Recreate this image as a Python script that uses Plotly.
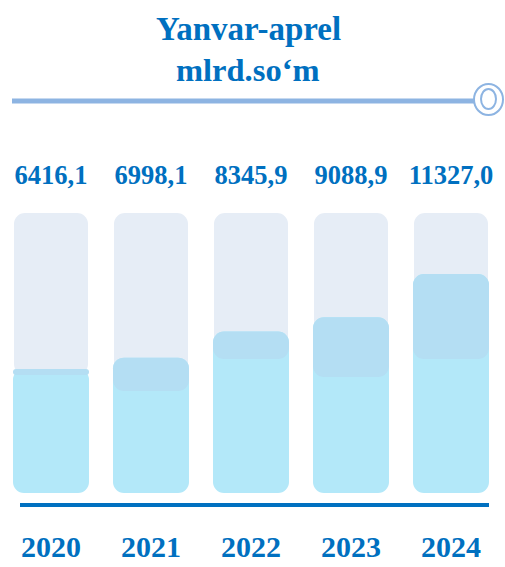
import plotly.graph_objects as go

# ---- data ----
years = ["2020", "2021", "2022", "2023", "2024"]
values = [6416.1, 6998.1, 8345.9, 9088.9, 11327.0]
title_line1 = "Yanvar-aprel"
title_line2 = "mlrd.so‘m"
# decorative background "track" extents (value units)
track_top = [14480, 14480, 14480, 14480, 14480]
track_bottom = [6100, 5270, 6930, 6000, 6930]

# ---- styles ----
BLUE = "#0070C0"
TRACK = "#E6EDF6"
CYAN = "#B3E8F9"
OVERLAP = "#B4DEF3"
LINE_LIGHT = "#8DB4E2"
FONT = "Liberation Serif"

W, H = 505, 567
ML, MR, MT, MB = 0, 0, 0, 62
PW, PH = W - ML - MR, H - MT - MB


def px_x(p):
    return (p - ML) / PW


def px_y(p):
    return (H - MB - p) / PH


def rounded_bar(fig, lo, hi, color, width, radius):
    """Floating bars (with a base) are rounded at both ends."""
    base, size = [], []
    for a, b in zip(lo, hi):
        if a is None or b is None or b <= a:
            base.append(None); size.append(None)
        else:
            base.append(a); size.append(b - a)
    fig.add_trace(go.Bar(
        x=years, y=size, base=base, width=width,
        marker=dict(color=color, line=dict(width=0), cornerradius=radius),
        hoverinfo="skip", showlegend=False,
    ))


fig = go.Figure()
rounded_bar(fig, track_bottom, track_top, TRACK, 0.74, 11)
rounded_bar(fig, [0] * len(values), values, CYAN, 0.76, 11)
ov_lo = [b if v > b else None for v, b in zip(values, track_bottom)]
ov_hi = [v if v > b else None for v, b in zip(values, track_bottom)]
rounded_bar(fig, ov_lo, ov_hi, OVERLAP, 0.76, 11)

UPP = 51.7  # value units per pixel

# value labels
fig.add_trace(go.Scatter(
    x=years, y=[(493 - 177) * UPP] * len(values), mode="text",
    text=[f"{v:.1f}".replace(".", ",") for v in values],
    textfont=dict(family=FONT, size=26.5, color=BLUE, weight="bold"),
    hoverinfo="skip", showlegend=False, cliponaxis=False,
))

fig.update_layout(
    width=W, height=H,
    margin=dict(l=ML, r=MR, t=MT, b=MB, autoexpand=False),
    paper_bgcolor="white", plot_bgcolor="white",
    barmode="overlay",
    xaxis=dict(
        type="category", range=[-0.51, 4.54], automargin=False,
        showline=False, showgrid=False, zeroline=False,
        ticks="outside", ticklen=15, tickcolor="rgba(0,0,0,0)",
        tickfont=dict(family=FONT, size=30, color=BLUE, weight="bold"),
        fixedrange=True,
    ),
    yaxis=dict(
        range=[-12 * UPP, 493 * UPP], automargin=False,
        visible=False, showgrid=False, zeroline=False, fixedrange=True,
    ),
    annotations=[
        dict(text=title_line1, xref="paper", yref="paper",
             x=px_x(248.5), y=px_y(29), xanchor="center", yanchor="middle",
             showarrow=False,
             font=dict(family=FONT, size=33, color=BLUE, weight="bold")),
        dict(text=title_line2, xref="paper", yref="paper",
             x=px_x(248), y=px_y(70), xanchor="center", yanchor="middle",
             showarrow=False,
             font=dict(family=FONT, size=32.5, color=BLUE, weight="bold")),
    ],
    shapes=[
        # baseline
        dict(type="line", xref="paper", yref="paper",
             x0=px_x(20), x1=px_x(489), y0=px_y(505), y1=px_y(505),
             line=dict(color=BLUE, width=4)),
        # title rule with end marker
        dict(type="line", xref="paper", yref="paper",
             x0=px_x(12), x1=px_x(474), y0=px_y(101), y1=px_y(101),
             line=dict(color=LINE_LIGHT, width=5)),
        dict(type="circle", xref="paper", yref="paper",
             x0=px_x(474), x1=px_x(503), y0=px_y(84), y1=px_y(115),
             line=dict(color=LINE_LIGHT, width=2), fillcolor="white"),
        dict(type="circle", xref="paper", yref="paper",
             x0=px_x(481), x1=px_x(496), y0=px_y(89), y1=px_y(109),
             line=dict(color=LINE_LIGHT, width=2), fillcolor="rgba(0,0,0,0)"),
    ],
)

fig.write_html(
    "out.html",
    config={"displayModeBar": False},
    post_script="document.body.style.margin='0';document.body.style.overflow='hidden';",
)
